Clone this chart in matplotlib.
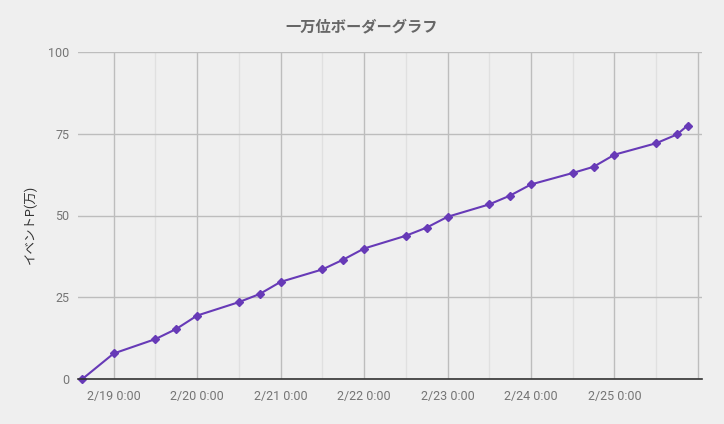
import matplotlib
matplotlib.use('Agg')
import matplotlib.pyplot as plt
import matplotlib.dates as mdates
import pandas as pd

plt.rcParams['font.family'] = ['Roboto', 'Noto Sans CJK JP', 'DejaVu Sans']

title = '一万位ボーダーグラフ'
ylabel = 'イベントP(万)'

times = ['2019-02-18 15:00', '2019-02-19 00:00', '2019-02-19 12:00', '2019-02-19 18:00',
         '2019-02-20 00:00', '2019-02-20 12:00', '2019-02-20 18:00',
         '2019-02-21 00:00', '2019-02-21 12:00', '2019-02-21 18:00',
         '2019-02-22 00:00', '2019-02-22 12:00', '2019-02-22 18:00',
         '2019-02-23 00:00', '2019-02-23 12:00', '2019-02-23 18:00',
         '2019-02-24 00:00', '2019-02-24 12:00', '2019-02-24 18:00',
         '2019-02-25 00:00', '2019-02-25 12:00', '2019-02-25 18:00',
         '2019-02-25 21:00']
points = [0, 7.8, 12.2, 15.3, 19.4, 23.5, 26.0, 29.7, 33.5, 36.5, 39.9, 43.8,
          46.3, 49.6, 53.4, 56.1, 59.5, 63.0, 64.9, 68.6, 72.1, 74.8, 77.5]
yticks = [0, 25, 50, 75, 100]

x = pd.to_datetime(times)
last = mdates.date2num(x[-1])

W, H = 724, 424
fig = plt.figure(figsize=(W / 100, H / 100), dpi=100, facecolor='#efefef')
ax = fig.add_axes([78 / W, (H - 379) / H, (702 - 78) / W, (379 - 52) / H])
ax.set_facecolor('#efefef')

ax.plot(x, points, color='#673ab7', lw=1.5, marker='D', ms=3.8, zorder=3, clip_on=False)

ax.set_xlim(pd.Timestamp('2019-02-18 13:45'), pd.Timestamp('2019-02-26 01:10'))
ax.set_ylim(0, 100)
ax.set_yticks(yticks)

ax.xaxis.set_major_locator(mdates.DayLocator())
ax.xaxis.set_minor_locator(mdates.HourLocator(byhour=[12]))


def fmt_date(v, pos=None):
    if v > last:
        return ''
    d = mdates.num2date(v)
    return f'{d.month}/{d.day} {d.hour}:{d.minute:02d}'


ax.xaxis.set_major_formatter(plt.FuncFormatter(fmt_date))

ax.grid(True, which='major', axis='both', color='#bdbdbd', lw=1)
ax.grid(True, which='minor', axis='x', color='#e0e0e0', lw=1)
ax.set_axisbelow(True)

for s in ['top', 'right', 'left']:
    ax.spines[s].set_visible(False)
ax.spines['bottom'].set_color('#333333')
ax.spines['bottom'].set_linewidth(1.2)
ax.spines['bottom'].set_zorder(4)

ax.tick_params(axis='both', which='both', length=0, labelsize=9, labelcolor='#757575')
ax.tick_params(axis='x', pad=8)
ax.tick_params(axis='y', pad=6)

fig.text(362 / W, 1 - 27 / H, title, ha='center', va='center', fontsize=11,
         fontweight='bold', color='#666666')
fig.text(30 / W, 1 - 224 / H, ylabel, ha='center', va='center', rotation=90,
         fontsize=9, color='#333333')

fig.savefig('out.png', dpi=100, facecolor=fig.get_facecolor())
